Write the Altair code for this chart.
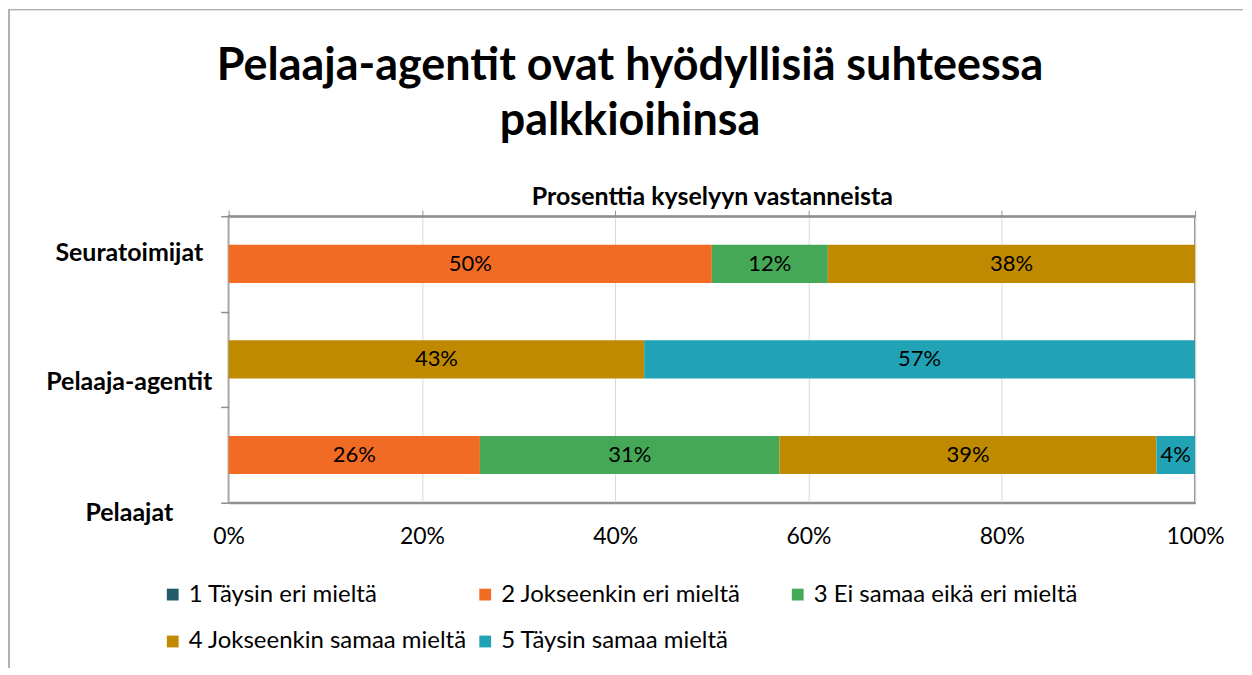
import altair as alt
import pandas as pd

groups = ["Seuratoimijat", "Pelaaja-agentit", "Pelaajat"]
categories = ["1 Täysin eri mieltä", "2 Jokseenkin eri mieltä", "3 Ei samaa eikä eri mieltä",
              "4 Jokseenkin samaa mieltä", "5 Täysin samaa mieltä"]
colors = ["#235B6B", "#F26B25", "#45A856", "#C08A00", "#22A3B5"]
seuratoimijat = [0, 50, 12, 38, 0]
pelaaja_agentit = [0, 0, 0, 43, 57]
pelaajat = [0, 26, 31, 39, 4]
x_ticks = [0, 0.2, 0.4, 0.6, 0.8, 1.0]

rows = []
for g, vals in zip(groups, [seuratoimijat, pelaaja_agentit, pelaajat]):
    for i, (c, v) in enumerate(zip(categories, vals)):
        rows.append({"group": g, "cat": c, "order": i, "value": v / 100})
df = pd.DataFrame(rows)

FONT = "Lato"
GRAY = "#8f8f8f"

yaxis = alt.Axis(
    title=None, tickBand="extent", tickSize=8, tickColor=GRAY, tickWidth=1.5,
    domain=False, labelFontSize=25, labelFontWeight="bold", labelFont=FONT,
    labelColor="#000000", labelAlign="center", labelPadding=92,
    labelOffset={"condition": [
        {"test": "datum.value === 'Seuratoimijat'", "value": -11},
        {"test": "datum.value === 'Pelaaja-agentit'", "value": 22}],
        "value": 58},
)
yenc = alt.Y("group:N", sort=groups, axis=yaxis,
             scale=alt.Scale(paddingInner=0, paddingOuter=0))

base = alt.Chart(df).transform_filter("datum.value > 0")

bars = base.mark_bar(height=alt.RelativeBandSize(0.4)).encode(
    x=alt.X("value:Q", stack="zero",
            scale=alt.Scale(domain=[0, 1], nice=False),
            axis=alt.Axis(orient="bottom", format="%", values=x_ticks, title=None,
                          tickSize=0, labelPadding=23, labelFontSize=23, labelFont=FONT,
                          labelColor="#000000", grid=True, gridColor="#d9d9d9", gridWidth=1,
                          domainColor=GRAY, domainWidth=2, labelFlush=False, labelBound=False)),
    y=yenc,
    color=alt.Color("cat:N", scale=alt.Scale(domain=categories, range=colors),
                    legend=alt.Legend(orient="none", legendX=-68, legendY=367, title=None,
                                      direction="horizontal",
                                      columns=3, gridAlign="all", columnPadding=6,
                                      rowPadding=23, symbolType="square", symbolSize=140,
                                      symbolStrokeWidth=0, labelFontSize=24, labelFont=FONT,
                                      labelColor="#000000", labelOffset=4, padding=0,
                                      labelLimit=400)),
    order=alt.Order("order:Q"),
)

texts = base.transform_stack(
    stack="value", groupby=["group"], as_=["v0", "v1"], sort=[alt.SortField("order")]
).transform_calculate(
    mid="(datum.v0 + datum.v1) / 2"
).mark_text(fontSize=22, font=FONT, color="#000000").encode(
    x=alt.X("mid:Q", scale=alt.Scale(domain=[0, 1], nice=False),
            axis=alt.Axis(orient="top", labels=False, values=x_ticks, tickSize=6,
                          tickColor=GRAY, grid=False, domainColor=GRAY, domainWidth=2,
                          title="Prosenttia kyselyyn vastanneista", titleFontSize=25,
                          titleFont=FONT, titleFontWeight="bold", titleColor="#000000",
                          titlePadding=0)),
    y=yenc,
    text=alt.Text("value:Q", format=".0%"),
)

frame_top = alt.Chart(df).mark_rule(color="#b0b0b0", strokeWidth=1).encode(
    x=alt.value(-220), x2=alt.value(1016), y=alt.value(-207))
frame_left = alt.Chart(df).mark_rule(color="#b0b0b0", strokeWidth=1).encode(
    x=alt.value(-220), y=alt.value(-207), y2=alt.value(452))

chart = alt.layer(bars, texts, frame_top, frame_left).resolve_axis(x="independent").properties(
    width=968, height=287, padding=0,
    title=alt.TitleParams(
        text=["Pelaaja-agentit ovat hyödyllisiä suhteessa", "palkkioihinsa"],
        fontSize=45, font=FONT, fontWeight="bold", color="#000000",
        lineHeight=55, anchor="middle", frame="bounds", offset=-135, dx=4),
).configure_view(stroke=GRAY, strokeWidth=2)

chart.save("out.html", embed_options={"renderer": "svg", "actions": False})
